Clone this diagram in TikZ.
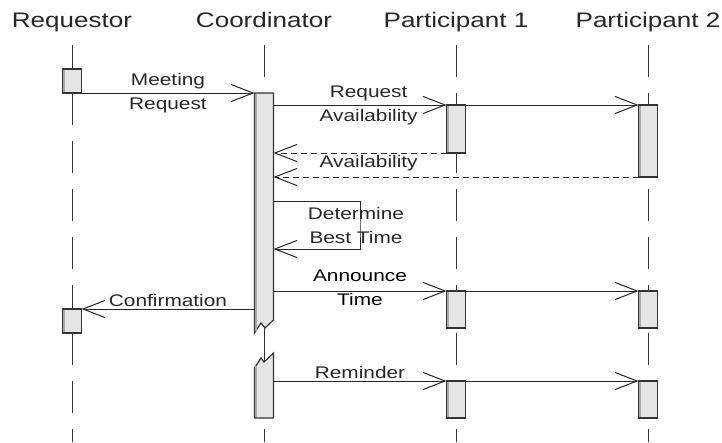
\documentclass[tikz,border=0pt]{standalone}
\usepackage{fontspec}
\newfontfamily\seqfont[FakeStretch=1.24]{Liberation Sans}
\usetikzlibrary{arrows.meta}

\begin{document}
\begin{tikzpicture}[
  x=1pt, y=-1pt,
  head/.style={font=\seqfont\fontsize{21}{25}\selectfont, text=black!85, text height=15pt, text depth=5pt, inner sep=0pt},
  lifeline/.style={line width=1pt, draw=black!80, dash pattern=on 32pt off 16pt},
  actbar/.style={draw=black!80, fill=gray!20, line width=1.2pt},
  shade/.style={draw=gray!65, line width=2pt},
  act/.style={rectangle, actbar, minimum width=19pt, inner sep=0pt, outer sep=0pt, anchor=north,
    path picture={\draw[shade] ([xshift=1.6pt]path picture bounding box.south west) -- ([xshift=1.6pt]path picture bounding box.north west);}},
  msg/.style={->, line width=1pt, draw=black!85},
  ret/.style={msg, dash pattern=on 6pt off 4pt},
  lbl/.style={font=\seqfont\fontsize{16.8}{24}\selectfont, text=black!85, align=center, inner sep=1.5pt},
  >={Straight Barb[length=22pt, width=17pt]},
  node distance=192pt
]
\useasboundingbox (0,0) rectangle (722,442);

% Objects
\node[head, anchor=base] (req) at (72,27) {Requestor};
\node[head, right of=req] (coord) {Coordinator};
\node[head, right of=coord] (part1) {Participant 1};
\node[head, right of=part1] (part2) {Participant 2};

% Lifelines
\foreach \who in {req,coord,part1,part2}
  \draw[lifeline] (\who |- 0,45) -- (\who |- 0,442);

% Activations
\node[act, minimum height=24pt] (reqA) at (req |- 0,69) {};
\node[act, minimum height=24pt] (reqB) at (req |- 0,309) {};
\node[act, minimum height=240pt, draw=none, fill=none, path picture={}] (coA) at (coord |- 0,93) {};
\node[act, minimum height=65pt, draw=none, fill=none, path picture={}] (coB) at (coord |- 0,353) {};
\node[act, minimum height=48pt] (p1A) at (part1 |- 0,105) {};
\node[act, minimum height=37pt] (p1B) at (part1 |- 0,291) {};
\node[act, minimum height=37pt] (p1C) at (part1 |- 0,381) {};
\node[act, minimum height=72pt] (p2A) at (part2 |- 0,105) {};
\node[act, minimum height=37pt] (p2B) at (part2 |- 0,291) {};
\node[act, minimum height=37pt] (p2C) at (part2 |- 0,381) {};

% Broken coordinator activation
\draw[line width=1pt, draw=black!80] (coord |- 0,326) -- (coord |- 0,364);
\filldraw[actbar] (coA.north west) -- (coA.north east) -- (273.5,320) -- (265,328) -- (261,323) -- (coA.south west) -- cycle;
\draw[shade] (256.1,94) -- (256.1,331);
\filldraw[actbar] (coB.south west) -- (254.5,368) -- (261,358) -- (264,362) -- (coB.north east) -- (coB.south east) -- cycle;
\draw[shade] (256.1,366) -- (256.1,417);

% Messages
\draw[msg] (reqA.south east) -- node[lbl] {Meeting\\Request} (coA.north west);
\draw[msg] (coA.east |- p1A.north) -- node[lbl, pos=0.55] {Request\\Availability} (p1A.north west);
\draw[msg] (p1A.north east) -- (p2A.north west);
\draw[ret] (p1A.south west) -- node[lbl, below, pos=0.45] {Availability} (coA.east |- p1A.south);
\draw[ret] (p2A.south west) -- (coA.east |- p2A.south);
\coordinate (selfR) at (360,225);
\draw[msg] (coA.east |- 0,201) -| (selfR) node[lbl, xshift=-4pt] {Determine\\Best Time} |- (coA.east |- 0,249);
\draw[msg] (coA.east |- p1B.north) -- node[lbl, text=black, yshift=3pt] {Announce\\Time} (p1B.north west);
\draw[msg] (p1B.north east) -- (p2B.north west);
\draw[msg] (coA.west |- reqB.north) -- node[lbl, above] {Confirmation} (reqB.north east);
\draw[msg] (coB.east |- p1C.north) -- node[lbl, above] {Reminder} (p1C.north west);
\draw[msg] (p1C.north east) -- (p2C.north west);
\end{tikzpicture}
\end{document}
